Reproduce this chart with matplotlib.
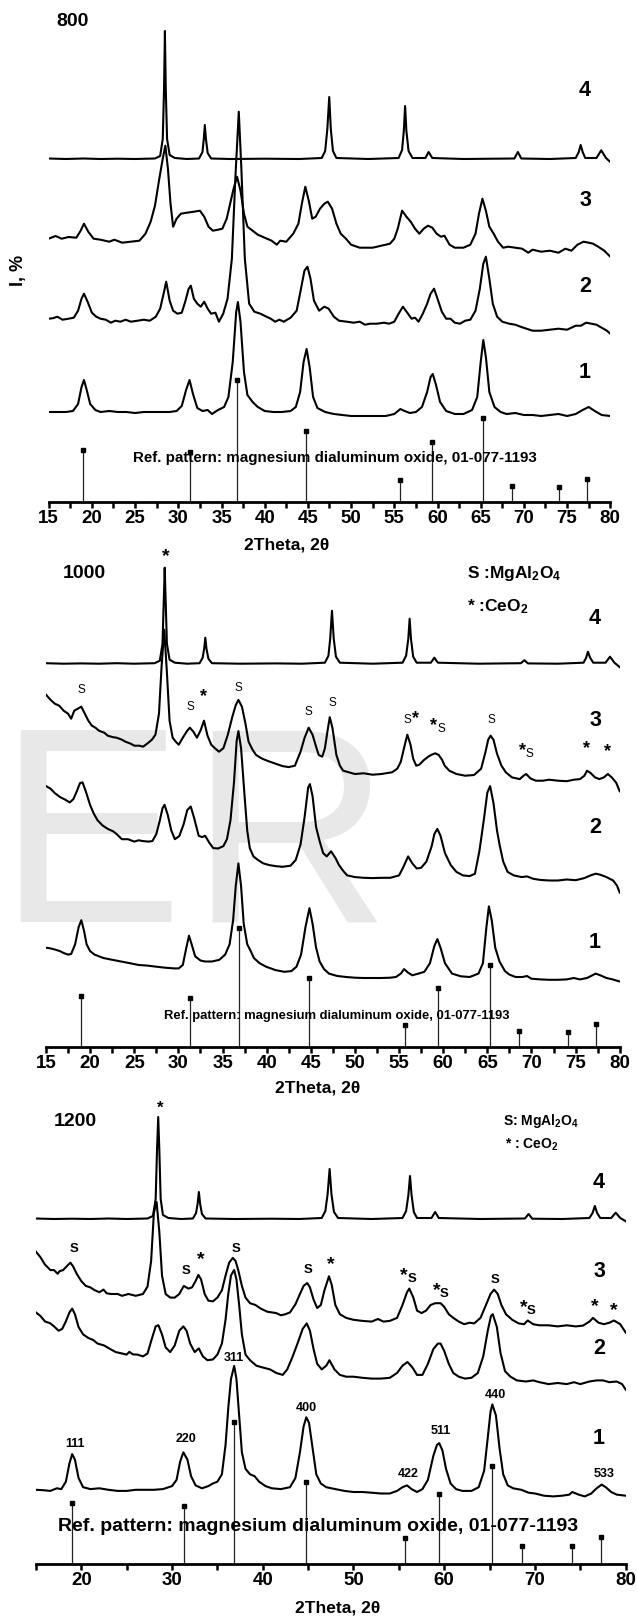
import matplotlib
matplotlib.use('Agg')
import matplotlib.pyplot as plt

plt.rcParams['font.family'] = ['Liberation Sans', 'DejaVu Sans']
plt.rcParams['mathtext.default'] = 'regular'

# ---------------- data (2theta, intensity above trace baseline, a.u.) ----------------
ref_pos = [19.0, 31.3, 36.85, 44.8, 55.7, 59.4, 65.25, 68.6, 74.1, 77.3]
ref_int = [43, 41, 100, 58, 18, 49, 69, 13, 12.5, 19]

t4_800 = [(15,0.5),(17,0),(19,0.5),(21,0),(23,0.3),(25,0),(27.3,0.5),(27.9,3),(28.2,20),(28.35,70),(28.45,128),(28.55,70),(28.7,20),(29.0,4),(29.6,1),(31,0),(32.4,0.5),(32.8,7),(32.95,20),(33.07,34),(33.2,20),(33.4,6),(33.8,0.5),(36,0),(40,0.3),(44,0),(46.6,1),(47.0,8),(47.25,30),(47.47,62),(47.65,30),(47.9,8),(48.3,1),(52,0),(55.5,1),(55.9,9),(56.1,28),(56.25,53),(56.4,28),(56.65,8),(57.1,1),(58.6,1),(58.97,7),(59.4,1),(63,0),(68.9,0.5),(69.3,7),(69.7,0.5),(73,0),(76.0,1),(76.35,7),(76.57,14),(76.8,7),(77.1,1),(78.4,1),(78.95,8.7),(79.5,1),(80,-3)]
t3_800 = [(15,0),(15.8,2.7),(16.5,0),(17.3,1.7),(18.2,1),(18.7,8),(19.08,15),(19.6,6.7),(20.2,0),(21,-1),(22,-3),(22.6,-1),(23.5,-4),(24.5,-3),(25.5,-2),(26.2,5),(26.8,17),(27.3,33),(27.8,60),(28.2,80),(28.5,93),(28.8,70),(29.1,35),(29.4,12),(29.8,20),(30.3,25),(31.0,26),(31.8,27),(32.5,28),(33.0,22),(33.5,12),(34.0,8),(34.6,9),(35.1,10),(35.6,20),(36.0,35),(36.4,50),(36.8,62),(37.2,48),(37.6,25),(38.0,12),(38.6,8),(39.2,4),(40,1),(40.8,-2),(41.4,-6),(41.8,-2),(42.5,-3),(43.3,5),(43.9,15),(44.3,35),(44.7,52),(45.1,38),(45.5,20),(45.9,22),(46.4,30),(46.9,35),(47.3,37),(47.8,30),(48.3,15),(48.8,5),(49.4,0),(50,-6),(51,-9),(52.5,-9),(53.5,-7),(54.5,-5),(55.0,0),(55.4,10),(55.9,28),(56.4,22),(56.9,17),(57.4,10),(57.9,5),(58.4,10),(58.9,13),(59.4,11),(59.9,5),(60.4,2),(60.8,3),(61.4,-6),(62.0,-9),(63,-9),(63.8,-6),(64.4,5),(64.8,25),(65.2,40),(65.6,28),(66.0,12),(66.5,5),(67,-3),(67.6,-9),(68.2,-8),(69,-9),(69.8,-10),(70.5,-14),(71,-11),(72,-13),(73,-12),(74,-14),(74.8,-10),(75.5,-12),(76.2,-6),(76.9,-3),(77.5,-4),(78.0,-5),(78.6,-8),(79.3,-12),(80,-18)]
t2_800 = [(15,0),(15.5,0.5),(16,2),(16.6,-1),(17.3,0),(17.9,1),(18.4,8),(18.8,20),(19.08,25),(19.5,17),(20.0,6),(20.5,2),(21,0),(21.6,-1),(22.2,-4),(22.7,-2),(23.3,-3),(23.9,-1),(24.5,-3),(25.3,-2),(26.0,-1),(26.7,-2),(27.4,2),(27.9,10),(28.3,25),(28.6,37),(29.0,18),(29.4,8),(29.9,5),(30.4,6),(30.8,17),(31.2,30),(31.45,33),(31.8,20),(32.2,15),(32.6,12),(33.0,17),(33.4,10),(33.8,5),(34.3,6),(34.7,-3),(35.2,5),(35.7,20),(36.2,60),(36.6,140),(37.0,207),(37.3,150),(37.7,60),(38.2,15),(38.8,7),(39.5,5),(40.2,2),(40.7,0),(41.2,-3),(41.7,-1),(42.2,-3),(43.0,1),(43.7,8),(44.2,30),(44.6,48),(44.95,52),(45.3,40),(45.7,18),(46.3,8),(46.9,12),(47.4,10),(48.0,2),(48.6,-2),(49.5,-3),(50.3,-4),(51.0,-3),(51.6,-6),(52.2,-5),(53,-5),(53.8,-4),(54.4,-5),(55.0,-3),(55.5,5),(56.0,12),(56.5,6),(57.0,0),(57.4,1),(57.8,-3),(58.3,5),(58.8,15),(59.2,25),(59.6,30),(60.0,20),(60.5,7),(61.0,0),(61.5,0),(62.0,-4),(62.6,-5),(63.2,-2),(63.8,-1),(64.4,8),(64.9,30),(65.3,55),(65.6,62),(66.0,40),(66.4,15),(66.9,2),(67.5,-3),(68.3,-5),(69.0,-6),(69.6,-8),(70.3,-10),(71,-12),(72,-12),(73,-11),(74,-10),(75,-11),(76,-7),(76.6,-7),(77.2,-4),(77.8,-5),(78.4,-6),(79,-9),(79.6,-12),(80,-15)]
t1_800 = [(15,0),(16,0),(17,0),(17.8,1),(18.4,8),(18.8,25),(19.08,32),(19.4,22),(19.8,8),(20.4,2),(21,0),(22,1),(23,0),(24,0),(25,-1),(26,0),(27,0),(28,0),(29,0),(29.8,1),(30.4,6),(30.9,22),(31.3,32),(31.7,18),(32.2,4),(32.8,1),(33.4,2),(33.9,-2),(34.6,2),(35.3,5),(35.8,15),(36.3,50),(36.7,100),(36.9,110),(37.2,90),(37.6,40),(38.0,17),(38.6,10),(39.2,5),(40,1),(41,0),(42,0),(43,1),(43.6,5),(44.1,20),(44.5,50),(44.85,63),(45.2,45),(45.6,15),(46.1,4),(47,0),(48,-2),(49,-3),(50,-4),(51,-4),(52,-4),(53,-4),(54,-4),(55,-2),(55.7,3),(56.2,1),(56.8,-1),(57.5,0),(58.2,5),(58.8,20),(59.2,35),(59.45,38),(59.8,28),(60.3,10),(61,1),(62,-2),(63,-2),(64,2),(64.6,15),(65.0,50),(65.3,72),(65.6,55),(66.0,20),(66.6,5),(67.3,0),(68,-2),(69,-1),(70,-3),(71,-3),(72,-4),(73,-3),(74,-2),(75,-4),(76,-2),(76.8,2),(77.5,5),(78.2,1),(79,-3),(80,-4)]

t4_1000 = [(15,0.5),(17,0),(19,0.3),(21,0),(23,0.5),(25,0),(27.3,0.5),(27.9,3),(28.2,20),(28.35,65),(28.45,96),(28.55,65),(28.7,20),(29.0,4),(29.6,1),(31,0),(32.4,0.5),(32.75,6),(32.92,15),(33.05,26),(33.18,15),(33.4,5),(33.8,0.5),(37,0),(41,0.3),(44,0),(46.6,1),(47.0,8),(47.2,25),(47.4,53),(47.6,25),(47.85,7),(48.3,1),(52,0),(55.4,1),(55.8,8),(56.05,25),(56.2,45),(56.35,25),(56.6,7),(57.0,1),(58.6,1),(59.0,6),(59.4,1),(64,0),(68.8,0.5),(69.2,3.5),(69.6,0.3),(73,0),(75.9,1),(76.2,6),(76.4,12),(76.65,6),(77.0,1),(78.4,1),(78.9,7),(79.4,1),(80,-3.4)]
t3_1000 = [(15,81),(15.5,76),(16,72),(16.5,70),(17,65),(17.5,62),(17.85,57),(18.2,65),(18.6,67),(19.0,69),(19.4,62),(19.8,55),(20.2,50),(20.6,48),(21,45),(21.6,43),(22,40),(22.6,38.5),(23,38),(23.6,36),(24,34),(24.6,32),(25,30),(25.6,30),(26,29),(26.6,33),(27.0,36),(27.4,41),(27.8,62),(28.1,110),(28.4,146),(28.7,103),(29.0,55),(29.35,38),(29.7,34),(30.04,31),(30.5,38),(31.0,45),(31.3,48),(31.7,44),(32.1,38),(32.5,45),(32.9,55),(33.3,40),(33.72,31),(34.2,27),(34.6,24),(35.1,27.5),(35.6,41),(36.1,58.5),(36.5,70.6),(36.8,75.8),(37.2,69),(37.6,52),(37.95,34),(38.4,26),(38.8,20.7),(39.5,17),(40.2,14.5),(41,12),(41.8,9.6),(42.5,8.6),(43.2,10),(43.84,24),(44.3,38),(44.76,48),(45.2,41),(45.6,29),(45.9,20.7),(46.3,19),(46.6,27.5),(46.9,45),(47.15,58.5),(47.45,48),(47.9,20.7),(48.3,10),(48.67,5),(49.3,3.4),(50,1.7),(51,2.4),(52,1),(53,1.7),(54.2,3.4),(54.8,7),(55.2,14),(55.6,29),(55.94,41),(56.3,31),(56.6,17),(56.95,10),(57.3,11),(57.8,15.5),(58.3,19),(58.7,21),(59.1,22.4),(59.5,20.7),(59.9,15.5),(60.17,10),(60.7,5),(61.5,1.7),(62.5,0),(63.5,0.7),(64.3,7),(64.8,24),(65.1,36),(65.37,40),(65.7,36),(66.1,22),(66.6,10),(67.1,3.4),(67.8,-1.7),(68.68,-3.4),(69.1,0),(69.4,1.7),(69.9,-2.8),(70.5,-5),(71.3,-5),(72,-4),(73,-5),(74,-5.5),(74.8,-4),(75.5,-3.4),(76.0,0),(76.3,5),(76.7,2.7),(77.2,-1.7),(77.7,-3.4),(78.2,-1.7),(78.66,1.7),(79.1,-1.7),(79.6,-7),(80,-15.5)]
t2_1000 = [(15,91),(15.5,88.5),(16,84),(16.6,80),(17.16,77.5),(17.7,74.7),(18.1,78),(18.5,86),(18.85,94),(19.14,94.7),(19.5,86),(20.0,72),(20.4,63.7),(20.84,56.8),(21.4,51.7),(22,48.2),(22.6,45.8),(23,43),(23.6,37.9),(24.3,37.9),(25.0,35.5),(25.5,36.8),(26,36),(26.6,35.5),(27.05,36),(27.5,43),(27.9,56.8),(28.2,68.9),(28.43,72.3),(28.8,62),(29.2,46.5),(29.6,37.9),(30.1,41),(30.6,53),(31.0,67),(31.4,70.6),(31.8,58.5),(32.3,41.3),(32.7,40),(33.03,41.3),(33.5,34.4),(33.95,29),(34.5,28.6),(35.1,31),(35.5,37.9),(35.9,56.8),(36.3,94.7),(36.6,136),(36.8,146),(37.1,129),(37.5,81),(37.8,46.5),(38.09,29),(38.5,20.7),(39.0,17.2),(39.6,13.8),(40.3,12),(41,11),(41.8,10.3),(42.7,11.4),(43.3,17.2),(43.84,32.7),(44.3,60),(44.7,89.5),(44.9,93),(45.2,81),(45.6,50),(46.0,36),(46.4,24),(46.8,20.7),(47.3,25.8),(47.8,19),(48.2,12),(48.7,5.9),(49.13,1.7),(50,0),(51,-0.7),(52,-1),(53,-0.7),(54,-0.7),(55,1.7),(55.5,10.3),(56.03,20.7),(56.5,13.8),(57,8.6),(57.5,9.3),(58.1,15.5),(58.7,31),(59.0,43),(59.34,48.2),(59.7,41.3),(60.2,24),(60.86,12),(61.5,5.2),(62.24,1.7),(63,1),(63.6,3.4),(64.1,25.8),(64.6,56.8),(65.0,84.4),(65.32,91),(65.7,74),(66.1,46.5),(66.38,32.7),(66.8,15.5),(67.3,5.2),(68,1.7),(68.9,0),(69.5,0.7),(70.2,-1.7),(71,-2.8),(72,-3.4),(73,-3.4),(74,-2.4),(75,-3.1),(76,-1),(76.7,1.7),(77.28,3.4),(77.8,2.4),(78.5,0),(79.26,-3.4),(79.7,-8.6),(80,-15.5)]
t1_1000 = [(15,29.3),(15.5,28.6),(16,27.5),(16.6,25.8),(17,24),(17.5,22.4),(17.85,23),(18.3,32.7),(18.7,50),(19.0,56.8),(19.3,46.5),(19.6,32.7),(20.0,25.8),(20.5,22.4),(21.5,19),(22.5,17.2),(23.5,15.5),(24.5,13.8),(25.5,12),(26.5,11.4),(27.5,10.3),(28.5,9.3),(29.5,8.6),(30.04,8.6),(30.5,12),(30.9,29.3),(31.2,41.3),(31.5,32.7),(31.9,20.7),(32.5,16.5),(33.0,15.5),(33.8,15.5),(34.64,17.2),(35.3,22.4),(35.8,32.7),(36.2,56.8),(36.5,91),(36.8,113.6),(37.1,91),(37.4,53.4),(37.8,32.7),(38.2,25.8),(38.55,19),(39.2,13.8),(39.93,10.3),(41,6.9),(42,5.2),(42.8,5.9),(43.38,10.3),(43.9,22.4),(44.4,50),(44.85,68.9),(45.2,53.4),(45.6,29.3),(46.0,15.5),(46.5,7.9),(47.06,3.4),(48,1),(49,0),(50,-0.7),(51,-1),(52,-1),(53,-1),(54,-0.7),(54.65,0),(55.2,3.4),(55.57,7.9),(56.0,4.5),(56.5,1.7),(57.2,3.4),(57.87,5.2),(58.5,13.8),(59.0,31),(59.34,37.9),(59.7,29.3),(60.2,13.8),(61,3.4),(62,0.7),(63,0),(64,3.4),(64.5,13.8),(64.9,50),(65.18,70.6),(65.5,56.8),(65.9,29.3),(66.38,15.5),(67,5.9),(67.5,2.4),(68.2,0),(69,0),(69.5,1),(70,-1.7),(71,-2.4),(72,-2.8),(73,-2.8),(74,-2.4),(74.8,-1),(75.5,-2.4),(76.3,-1),(76.9,1.7),(77.28,3.4),(77.8,1.7),(78.5,-1),(79.2,-2.4),(80,-4.5)]

t4_1200 = [(15,0.5),(17,0),(19,0.3),(21,0),(23,0.5),(25,0),(27.3,0.5),(27.9,3),(28.2,20),(28.35,70),(28.48,102),(28.6,70),(28.75,20),(29.0,4),(29.6,1),(31,0),(32.3,0.5),(32.65,6),(32.82,15),(32.96,27),(33.1,15),(33.3,5),(33.7,0.5),(37,0),(41,0.3),(44,0),(46.5,1),(46.9,8),(47.15,25),(47.37,50),(47.57,25),(47.85,7),(48.3,1),(52,0),(55.4,1),(55.8,8),(56.05,24),(56.23,43),(56.4,24),(56.65,7),(57.0,1),(58.6,1),(59.0,7),(59.4,1),(64,0),(68.9,0.5),(69.3,5),(69.7,0.3),(73,0),(76.0,1),(76.35,6),(76.6,13),(76.85,6),(77.2,1),(78.4,1),(78.9,6.3),(79.4,1),(80,-2.2)]
t3_1200 = [(15,70),(15.5,64.4),(16,57),(16.6,51.5),(17,51.5),(17.4,47.8),(17.6,50.4),(18.0,51.5),(18.5,56.3),(18.8,58.9),(19.1,55.2),(19.5,47.8),(20.0,40.5),(20.5,35.7),(21.0,34.2),(21.5,31.3),(22.0,29.4),(22.45,32),(22.8,28.3),(23.3,27.6),(24,27.6),(24.5,25.8),(25.2,27.6),(26.0,25.8),(26.8,27.6),(27.3,35),(27.7,60.7),(28.0,108.6),(28.3,119.6),(28.6,90),(28.9,46),(29.3,27.6),(29.8,24),(30.3,24),(30.8,27.6),(31.3,35.7),(31.8,33),(32.2,34.2),(32.6,40.5),(32.9,46.7),(33.2,42.3),(33.6,27.6),(34.0,21),(34.5,20.2),(35.0,24),(35.5,31.3),(35.9,46),(36.3,59),(36.7,63.7),(37.0,60.7),(37.3,51.5),(37.7,35.7),(38.1,24),(38.6,18.4),(39.2,16.6),(39.8,12.9),(40.5,9.9),(41.5,8.5),(42.0,6.3),(42.5,7.4),(43.0,9.2),(43.6,17.3),(44.1,27.6),(44.5,35.7),(44.9,38.6),(45.2,34.2),(45.6,22),(46.0,13.6),(46.4,16.6),(46.8,31.3),(47.3,45.3),(47.6,36.8),(48.0,16.6),(48.5,7.4),(49.2,3.7),(50,1.8),(51,0.7),(52,0),(52.7,2.6),(53.3,0),(54,0.7),(54.8,3.7),(55.4,16.6),(55.9,29.4),(56.15,33),(56.6,24),(57.0,11),(57.5,8.5),(58.0,11),(58.5,16.6),(59.0,18.4),(59.6,18.4),(60.0,14.7),(60.5,7.4),(61,3.7),(61.6,0),(62.2,-2.6),(62.8,-1.1),(63.3,-1.8),(64.0,3.7),(64.6,16.6),(65.1,27.6),(65.5,32),(65.9,27.6),(66.3,16.6),(66.8,7.4),(67.5,1.8),(68.2,-1.8),(68.8,-2.6),(69.2,1.1),(69.8,-2.6),(70.5,-3.7),(71.5,-3.7),(72.5,-4.8),(73.5,-3.7),(74.5,-4.8),(75.3,-4),(76.0,0),(76.4,3.7),(77.0,-1.1),(77.6,-2.6),(78.2,-1.1),(78.7,1.1),(79.4,-2.6),(80,-11)]
t2_1200 = [(15,68),(15.5,64.4),(16,59),(16.6,57),(17.0,54),(17.5,49.7),(17.9,51.5),(18.3,59),(18.7,68),(19.0,71.8),(19.3,66.2),(19.7,53.4),(20.2,46),(20.8,42.3),(21.3,40.5),(21.8,36.8),(22.5,35),(23.2,31.3),(23.8,28.3),(24.5,26.9),(25.0,25.8),(25.3,28.5),(25.7,26),(26.2,25.8),(26.8,24),(27.3,26.9),(27.8,42.3),(28.2,54),(28.5,55.2),(28.9,46),(29.3,33),(29.8,28.3),(30.3,35),(30.8,49.7),(31.25,54),(31.6,49.7),(32.0,36.8),(32.5,28.3),(32.95,32),(33.4,24),(33.9,20.2),(34.5,20.9),(35.0,25.8),(35.5,36.8),(35.9,60.7),(36.2,86.5),(36.5,105),(36.85,110.4),(37.1,101),(37.4,75.4),(37.7,46),(38.1,25.8),(38.6,20.2),(39.3,14.7),(40,12.9),(40.8,11),(41.5,7.4),(42.2,5.5),(42.7,11),(43.3,24),(43.9,38.6),(44.4,51.5),(44.85,57),(45.2,49.7),(45.6,31.3),(46.0,16.6),(46.5,11),(47.0,14.7),(47.35,20.2),(47.9,11),(48.5,5.5),(49.2,3.7),(50,3.7),(51,2.6),(52,1.8),(53,1.8),(54.0,2.6),(54.8,7.4),(55.4,14.7),(55.95,18.4),(56.5,12.9),(57.0,5.5),(57.6,5.5),(58.2,16.6),(58.8,31.3),(59.3,36.8),(59.6,36.8),(60.0,29.4),(60.5,16.6),(61,7.4),(61.6,3.7),(62.3,1.8),(63,2.6),(63.7,7.4),(64.3,24),(64.8,49.7),(65.15,64.4),(65.35,66.2),(65.8,53.4),(66.2,27.6),(66.7,9.2),(67.3,3.7),(68,0),(69,-1.1),(69.8,0),(70.5,-1.8),(71.5,-3.7),(72.5,-2.6),(73.5,-3.7),(74.3,-1.8),(75,-3.7),(76,-1.1),(76.8,0),(77.5,0),(78.2,-1.8),(79,-1.1),(79.6,-3.7),(80,-9.2)]
t1_1200 = [(15,1.1),(15.8,0.7),(16.6,0),(17.3,2.6),(17.8,1.8),(18.3,9.2),(18.7,27.6),(19.0,36.8),(19.3,31.3),(19.7,12.9),(20.2,3.7),(21,1.8),(22,2.6),(23,1.1),(24,0),(25,0),(26,1.1),(27,1.1),(28,1.1),(29,1.8),(30,4.8),(30.5,11),(30.9,29.4),(31.25,38.6),(31.7,31.3),(32.1,14.7),(32.6,5.5),(33.3,2.6),(34,4.8),(34.5,7.4),(35,9.2),(35.5,16.6),(35.9,46),(36.2,82.8),(36.5,112),(36.85,125),(37.1,112),(37.4,75.4),(37.7,38.6),(38.1,22),(38.6,16.6),(39.1,14.7),(39.6,9.2),(40.3,4.8),(41,2.6),(42,1.8),(43,3.7),(43.6,12.9),(44.1,38.6),(44.5,64.4),(44.8,73.6),(45.1,68),(45.5,42.3),(45.9,16.6),(46.4,7.4),(47,3.7),(48,1.8),(49,0),(50,-1.1),(51,-1.1),(52,-1.8),(53,-2.6),(54,-2.6),(54.8,0),(55.4,3.7),(55.9,5.5),(56.4,1.8),(57,-1.1),(57.6,1.8),(58.2,11),(58.8,35),(59.2,46),(59.45,47.8),(59.8,40.5),(60.2,22),(60.7,7.4),(61.3,1.8),(62,0),(63,0),(63.8,3.7),(64.4,20.2),(64.8,53.4),(65.1,79),(65.3,86.5),(65.7,75.4),(66.1,42.3),(66.5,16.6),(67,5.5),(67.6,2.6),(68.5,1.1),(69.3,-1.8),(70,-2.6),(71,-4.8),(72,-5.5),(73,-4.8),(73.8,-3.7),(74.1,-1.1),(74.8,-3.7),(75.5,-5.5),(76.2,-2.6),(76.8,2.6),(77.35,6.3),(77.8,3.7),(78.4,-1.1),(79,-3.7),(80,-4.8)]

x_ticks_5 = list(range(15, 81, 5))
x_ticks_10 = list(range(20, 81, 10))

labels_1000 = [('S',19.0,356.7),('S',31.4,340),('*',32.9,350),('S',36.8,358.4),('S',44.7,335),('S',47.4,344),
               ('S*',56.4,326.7),('*S',59.4,320),('S',65.5,326.7),('*S',69.4,295),('*',76.2,297.7),('*',78.6,295)]
labels_1200 = [('S',19.2,315),('S',31.5,293),('*',33.2,304),('S',37.1,315),('S',45.0,294),('*',47.5,299),
               ('*S',56.0,287),('*S',59.6,272),('S',65.6,284),('*S',69.2,255.3),('*',76.6,257),('*',78.7,253.5)]
hkl_1200 = [('111',19.3,120),('220',31.5,125),('311',36.8,206),('400',44.8,156),('422',56.0,90),
            ('511',59.6,133),('440',65.6,169),('533',77.6,90)]

# ---------------- figure ----------------
W, H = 637, 1617
fig = plt.figure(figsize=(W / 100, H / 100), dpi=100)


def ftext(x, y, s, size, **kw):
    kw.setdefault('ha', 'center')
    kw.setdefault('va', 'center')
    kw.setdefault('fontweight', 'bold')
    return fig.text(x / W, 1 - y / H, s, fontsize=size, **kw)


# watermark
ftext(90, 850, 'E', 200, color='#e8e8e8', fontweight='normal', zorder=-10)
ftext(290, 850, 'R', 200, color='#e8e8e8', fontweight='normal', zorder=-10)

panels = [
    dict(x0=48.7, x1=610.3, ybot=502, ytop=5, traces=[t1_800, t2_800, t3_800, t4_800],
         offs=[90, 183.3, 263.3, 343], stick=1.22, major=x_ticks_5, minor=[17.5 + 5 * i for i in range(13)]),
    dict(x0=46.0, x1=619.7, ybot=1046.7, ytop=550, traces=[t1_1000, t2_1000, t3_1000, t4_1000],
         offs=[69.7, 169.6, 271, 383], stick=1.19, major=x_ticks_5, minor=[17.5 + 5 * i for i in range(13)]),
    dict(x0=35.9, x1=625.7, ybot=1564, ytop=1095, traces=[t1_1200, t2_1200, t3_1200, t4_1200],
         offs=[73.1, 183.6, 242.4, 345], stick=1.42, major=x_ticks_10, minor=[15, 25, 35, 45, 55, 65, 75]),
]

axes = []
for p in panels:
    ax = fig.add_axes([p['x0'] / W, 1 - p['ybot'] / H, (p['x1'] - p['x0']) / W, (p['ybot'] - p['ytop']) / H])
    ax.set_xlim(15, 80)
    ax.set_ylim(0, p['ybot'] - p['ytop'])
    ax.patch.set_alpha(0)
    for s in ['top', 'right', 'left']:
        ax.spines[s].set_visible(False)
    ax.spines['bottom'].set_linewidth(2.0)
    ax.set_yticks([])
    ax.set_xticks(p['major'])
    ax.set_xticks(p['minor'], minor=True)
    ax.tick_params(axis='x', which='both', direction='out', length=4, width=1.8, pad=2, labelsize=13.5)
    for lab in ax.get_xticklabels():
        lab.set_fontweight('bold')
    # reference sticks
    hs = [v * p['stick'] for v in ref_int]
    ax.vlines(ref_pos, 0, hs, color='#222222', lw=0.9, zorder=2)
    ax.plot(ref_pos, hs, 's', ms=3, color='black', zorder=3)
    for tr, off in zip(p['traces'], p['offs']):
        ax.plot([a for a, b in tr], [b + off for a, b in tr], color='black', lw=1.5, zorder=4,
                solid_joinstyle='round')
    axes.append(ax)

ax1, ax2, ax3 = axes


def peak_label(ax, s, x, y, ssize, ssize_star, sweight='normal'):
    if s == 'S':
        ax.text(x, y, 'S', fontsize=ssize, fontweight=sweight, ha='center', va='center', clip_on=False)
    elif s == '*':
        ax.text(x, y, '*', fontsize=ssize_star, fontweight='bold', ha='center', va='center', clip_on=False)
    elif s == '*S':
        ax.text(x - 0.45, y + 1, '*', fontsize=ssize_star, fontweight='bold', ha='center', va='center', clip_on=False)
        ax.text(x + 0.4, y - 2, 'S', fontsize=ssize, fontweight=sweight, ha='center', va='center', clip_on=False)
    elif s == 'S*':
        ax.text(x - 0.4, y, 'S', fontsize=ssize, fontweight=sweight, ha='center', va='center', clip_on=False)
        ax.text(x + 0.5, y + 1, '*', fontsize=ssize_star, fontweight='bold', ha='center', va='center', clip_on=False)


for s, x, y in labels_1000:
    peak_label(ax2, s, x, y, 8.5, 13)
for s, x, y in labels_1200:
    peak_label(ax3, s, x, y, 9.5, 14, sweight='bold')
for s, x, y in hkl_1200:
    ax3.text(x, y, s, fontsize=9, fontweight='bold', ha='center', va='center', clip_on=False)

# panel titles and numbers
ftext(73, 22, '800', 14)
ftext(84.5, 574, '1000', 14)
ftext(75, 1121, '1200', 14)
ftext(165.6, 557, '*', 14)
ftext(160.4, 1108, '*', 12)

for x, ys in [(585, [373, 287, 200, 91]), (595, [942.5, 827, 720.4, 618.8]), (599, [1438.6, 1348, 1271, 1182])]:
    for n, y in zip(['1', '2', '3', '4'], ys):
        ftext(x, y, n, 15.5)

# legends
ftext(467, 573, 'S :MgAl$_2$O$_4$', 12.5, ha='left')
ftext(467, 607, '* :CeO$_2$', 12.5, ha='left')
ftext(503, 1121, 'S: MgAl$_2$O$_4$', 10, ha='left')
ftext(505, 1145, '* : CeO$_2$', 10, ha='left')

# reference pattern texts
ref_txt = 'Ref. pattern: magnesium dialuminum oxide, 01-077-1193'
ftext(334.5, 458, ref_txt, 10.9)
ftext(337, 1015.5, ref_txt, 9.4)
ftext(318.5, 1526, ref_txt, 14)

# axis labels
ftext(287, 545, '2Theta, 2θ', 12.5)
ftext(318, 1088, '2Theta, 2θ', 12.5)
ftext(338, 1608, '2Theta, 2θ', 12.5)
ftext(18, 270, 'I, %', 13, rotation=90)

fig.savefig('out.png', dpi=100)
